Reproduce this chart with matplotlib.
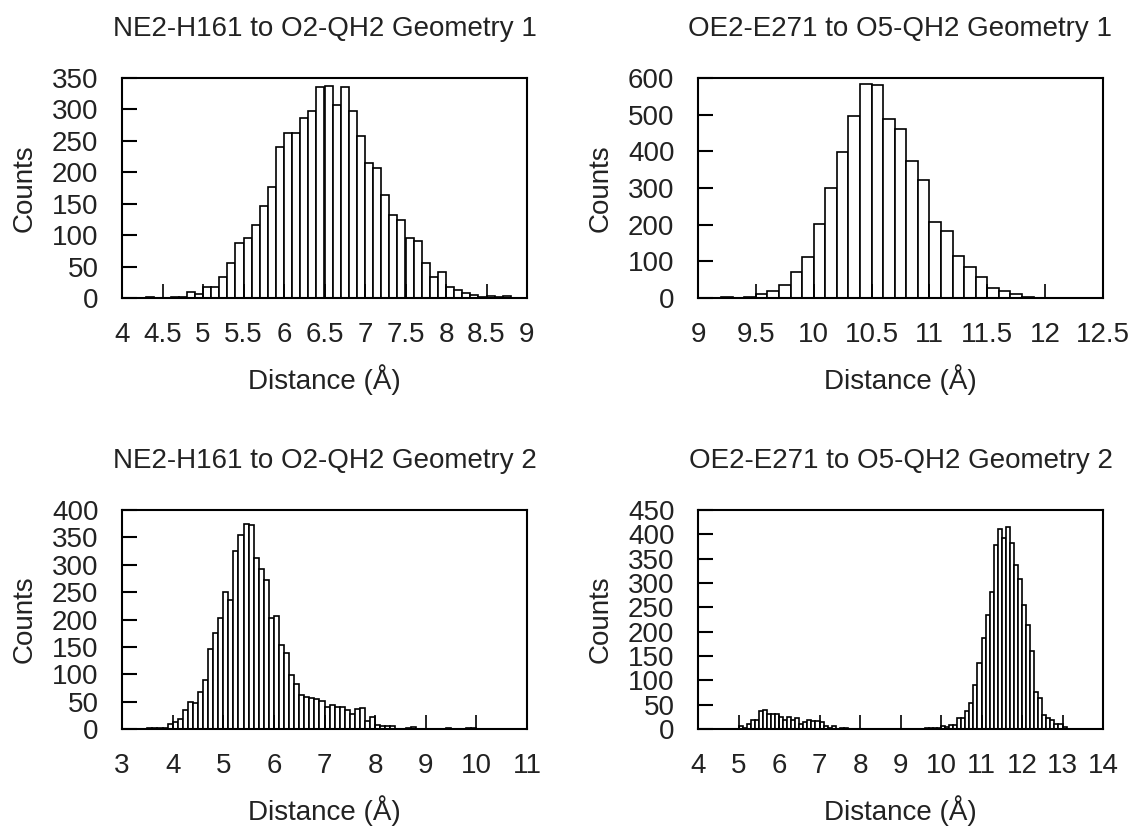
import numpy as np
import matplotlib
matplotlib.use("Agg")
import matplotlib.pyplot as plt

plt.rcParams['font.family'] = ['Liberation Sans', 'DejaVu Sans']
plt.rcParams['font.size'] = 20
plt.rcParams['text.color'] = '#222222'
plt.rcParams['axes.labelcolor'] = '#222222'
plt.rcParams['xtick.labelcolor'] = '#222222'
plt.rcParams['ytick.labelcolor'] = '#222222'

# Histogram data: first bin left edge, bin width 0.1 A, counts per bin
g1_h161_start = 4.3
g1_h161_counts = [1, 0, 0, 1, 1, 10, 7, 18, 18, 33, 55, 87, 95, 116, 147, 176, 240, 263, 263,
                  286, 298, 335, 338, 307, 335, 298, 258, 215, 207, 164, 132, 124, 95, 90,
                  55, 33, 42, 17, 13, 8, 4, 1, 3, 1, 3]

g1_e271_start = 9.2
g1_e271_counts = [4, 0, 4, 11, 18, 36, 72, 113, 202, 300, 398, 495, 584, 580, 489, 462, 374,
                  321, 208, 183, 115, 84, 56, 26, 18, 12, 4]

g2_h161_start = 3.5
g2_h161_counts = [2, 2, 2, 2, 9, 13, 19, 34, 49, 47, 67, 89, 146, 176, 202, 250, 235, 326,
                  355, 375, 372, 313, 292, 272, 202, 206, 153, 139, 99, 82, 63, 59, 57, 54,
                  52, 40, 43, 40, 40, 35, 27, 36, 39, 14, 22, 8, 5, 5, 5, 0, 0, 1, 3, 0, 0,
                  0, 0, 0, 0, 1, 0, 0, 0, 2, 2]

g2_e271_start = 5.0
g2_e271_counts = [6, 2, 10, 18, 18, 36, 40, 31, 31, 31, 25, 19, 25, 18, 22, 10, 14, 18, 17,
                  17, 14, 7, 3, 6, 1, 2, 2, 0, 0, 0, 0, 0, 0, 0, 0, 0, 0, 0, 0, 0, 0, 0, 0,
                  0, 0, 0, 2, 2, 2, 2, 7, 4, 9, 9, 22, 22, 36, 54, 90, 136, 186, 235, 282,
                  378, 410, 393, 415, 382, 337, 308, 254, 213, 160, 77, 63, 29, 22, 19, 11,
                  11, 5, 1]

panels = [
    ("NE2-H161 to O2-QH2 Geometry 1", g1_h161_start, g1_h161_counts, (4, 9), 0.5, 350, 50),
    ("OE2-E271 to O5-QH2 Geometry 1", g1_e271_start, g1_e271_counts, (9, 12.5), 0.5, 600, 100),
    ("NE2-H161 to O2-QH2 Geometry 2", g2_h161_start, g2_h161_counts, (3, 11), 1, 400, 50),
    ("OE2-E271 to O5-QH2 Geometry 2", g2_e271_start, g2_e271_counts, (4, 14), 1, 450, 50),
]

W, H = 1136, 830
fig = plt.figure(figsize=(W / 100, H / 100), dpi=100)

# axes boxes in pixels: left, top, right, bottom
boxes = [(122, 78, 527, 298), (698, 78, 1103, 298),
         (122, 510, 527, 729), (698, 510, 1103, 729)]

bw = 0.1
for (title, start, counts, xlim, xstep, ymax, ystep), (l, t, r, b) in zip(panels, boxes):
    ax = fig.add_axes([l / W, (H - b) / H, (r - l) / W, (b - t) / H])
    edges = start + bw * np.arange(len(counts))
    ax.bar(edges, counts, width=bw, align='edge', color='white',
           edgecolor='black', linewidth=1.2)
    ax.set_xlim(*xlim)
    ax.set_ylim(0, ymax)
    xt = np.arange(xlim[0], xlim[1] + xstep / 2, xstep)
    ax.set_xticks(xt)
    ax.set_xticklabels([f"{v:g}" for v in xt])
    ax.set_yticks(np.arange(0, ymax + 1, ystep))
    ax.tick_params(axis='y', direction='in', length=11, width=1.5, pad=17, left=True, right=False)
    ax.tick_params(axis='x', direction='in', length=10, width=1.2, pad=17, top=False)
    for s in ax.spines.values():
        s.set_linewidth(1.5)
    ax.set_title(title, pad=30, fontsize=20)
    ax.set_xlabel("Distance (Å)", labelpad=12)
    ax.set_ylabel("Counts", labelpad=10)

fig.savefig("out.png", dpi=100)
